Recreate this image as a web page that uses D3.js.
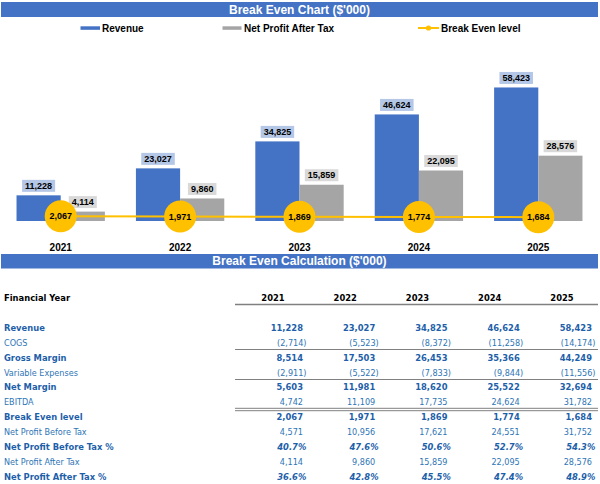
<!DOCTYPE html>
<html>
<head>
<meta charset="utf-8">
<script src="https://cdn.jsdelivr.net/npm/d3@7"></script>
<style>
  html, body { margin: 0; padding: 0; background: #ffffff; }
  svg { display: block; font-family: "Liberation Sans", Arial, sans-serif; }
</style>
</head>
<body>
<svg id="chart" width="600" height="484"></svg>
<script>
// ---------------- DATA ----------------
const years = ["2021", "2022", "2023", "2024", "2025"];
const revenue = [11228, 23027, 34825, 46624, 58423];
const netProfitAfterTax = [4114, 9860, 15859, 22095, 28576];
const breakEvenLevel = [2067, 1971, 1869, 1774, 1684];

const cogs = [-2714, -5523, -8372, -11258, -14174];
const grossMargin = [8514, 17503, 26453, 35366, 44249];
const variableExpenses = [-2911, -5522, -7833, -9844, -11556];
const netMargin = [5603, 11981, 18620, 25522, 32694];
const ebitda = [4742, 11109, 17735, 24624, 31782];
const netProfitBeforeTax = [4571, 10956, 17621, 24551, 31752];
const netProfitBeforeTaxPct = [40.7, 47.6, 50.6, 52.7, 54.3];
const netProfitAfterTaxPct = [36.6, 42.8, 45.5, 47.4, 48.9];

const chartTitle = "Break Even Chart ($'000)";
const tableTitle = "Break Even Calculation ($'000)";
const seriesNames = ["Revenue", "Net Profit After Tax", "Break Even level"];

// ---------------- STYLE ----------------
const C_BLUE = "#4472C4", C_GREY = "#A5A5A5", C_YEL = "#FFC000";
const C_BLUE_LBL = "#B4C7E7", C_GREY_LBL = "#D9D9D9";
const C_TXT_BOLD = "#1E5FAA", C_TXT_REG = "#2E75B6";

const svg = d3.select("#chart");
const fmt = d3.format(",");

// pick a Tahoma-like condensed face for the table if available
let TF = "Liberation Sans, Arial, sans-serif", regSize = 10, boldSize = 10;
{
  const t = svg.append("text").attr("font-family", "DejaVu Sans Condensed").attr("font-size", 10).text("Variable Expenses");
  const w = t.node().getComputedTextLength();
  t.remove();
  if (w > 80 && w < 89) { TF = "DejaVu Sans Condensed"; regSize = 9; boldSize = 9.3; }
}

// Title bars
function titleBar(y, h, text) {
  svg.append("rect").attr("x", 1).attr("y", y).attr("width", 597).attr("height", h).attr("fill", C_BLUE);
  svg.append("text").attr("x", 299.5).attr("y", y + h / 2 + 4.2)
    .attr("text-anchor", "middle").attr("fill", "#fff")
    .attr("font-size", 12).attr("font-weight", "bold").text(text);
}
titleBar(2, 15, chartTitle);

// Legend
const lg = svg.append("g").attr("font-size", 10).attr("font-weight", "bold");
lg.append("rect").attr("x", 80.5).attr("y", 26.3).attr("width", 19.5).attr("height", 3.5).attr("fill", C_BLUE);
lg.append("text").attr("x", 102).attr("y", 31.6).text(seriesNames[0]);
lg.append("rect").attr("x", 222.5).attr("y", 26.3).attr("width", 19).attr("height", 3.5).attr("fill", C_GREY);
lg.append("text").attr("x", 244).attr("y", 31.6).text(seriesNames[1]);
lg.append("line").attr("x1", 418).attr("x2", 439).attr("y1", 28).attr("y2", 28).attr("stroke", C_YEL).attr("stroke-width", 2);
lg.append("circle").attr("cx", 428.5).attr("cy", 28).attr("r", 2.6).attr("fill", C_YEL);
lg.append("text").attr("x", 441).attr("y", 31.6).text(seriesNames[2]);

// ---------------- CHART ----------------
const x0 = d3.scaleBand().domain(years).range([1, 598]).paddingInner(0.26).paddingOuter(0.13);
const x1 = d3.scaleBand().domain(["rev", "npat"]).range([0, x0.bandwidth()]);
const y = d3.scaleLinear().domain([0, 70000]).range([221, 61]);

const barData = years.map((yr, i) => [
  { year: yr, key: "rev", value: revenue[i], color: C_BLUE, lbl: C_BLUE_LBL },
  { year: yr, key: "npat", value: netProfitAfterTax[i], color: C_GREY, lbl: C_GREY_LBL }
]).flat();

const bars = svg.append("g");
bars.selectAll("rect").data(barData).join("rect")
  .attr("x", d => x0(d.year) + x1(d.key))
  .attr("y", d => y(d.value))
  .attr("width", x1.bandwidth())
  .attr("height", d => y(0) - y(d.value))
  .attr("fill", d => d.color);

// data labels with boxes
const lblG = svg.append("g").attr("font-size", 9).attr("font-weight", "bold");
barData.forEach(d => {
  const cx = x0(d.year) + x1(d.key) + x1.bandwidth() / 2;
  const top = y(d.value);
  const g = lblG.append("g");
  const t = g.append("text").attr("x", cx).attr("y", top - 6.8).attr("text-anchor", "middle")
    .attr("fill", "#000").text(fmt(d.value));
  const w = t.node().getComputedTextLength() + 6;
  g.insert("rect", "text").attr("x", cx - w / 2).attr("y", top - 15.5).attr("width", w).attr("height", 12)
    .attr("fill", d.lbl);
});

// Break-even line and markers
const beData = years.map((yr, i) => ({ year: yr, value: breakEvenLevel[i] }));
const beX = d => x0(d.year) + x0.bandwidth() / 2;
svg.append("path").datum(beData)
  .attr("d", d3.line().x(beX).y(d => y(d.value)))
  .attr("fill", "none").attr("stroke", C_YEL).attr("stroke-width", 2);
const beG = svg.append("g");
beG.selectAll("circle").data(beData).join("circle")
  .attr("cx", beX).attr("cy", d => y(d.value)).attr("r", 16).attr("fill", C_YEL);
beG.selectAll("text").data(beData).join("text")
  .attr("x", beX).attr("y", d => y(d.value) + 3.2).attr("text-anchor", "middle")
  .attr("font-size", 9).attr("font-weight", "bold").attr("fill", "#000")
  .text(d => fmt(d.value));

// X axis (year labels)
const xAxis = svg.append("g").attr("transform", "translate(0,221)")
  .call(d3.axisBottom(x0).tickSize(0).tickPadding(23));
xAxis.select(".domain").remove();
xAxis.selectAll("text").attr("font-size", 10).attr("font-weight", "bold").attr("fill", "#000")
  .attr("font-family", "Liberation Sans, Arial, sans-serif");

// ---------------- TABLE ----------------
titleBar(254, 14.5, tableTitle);

const rows = [
  { label: "Revenue", values: revenue, type: "bold" },
  { label: "COGS", values: cogs, type: "reg" },
  { label: "Gross Margin", values: grossMargin, type: "bold" },
  { label: "Variable Expenses", values: variableExpenses, type: "reg" },
  { label: "Net Margin", values: netMargin, type: "bold" },
  { label: "EBITDA", values: ebitda, type: "reg" },
  { label: "Break Even level", values: breakEvenLevel, type: "bold" },
  { label: "Net Profit Before Tax", values: netProfitBeforeTax, type: "reg" },
  { label: "Net Profit Before Tax %", values: netProfitBeforeTaxPct, type: "pct" },
  { label: "Net Profit After Tax", values: netProfitAfterTax, type: "reg" },
  { label: "Net Profit After Tax %", values: netProfitAfterTaxPct, type: "pct" }
];

const col = d3.scaleBand().domain(years).range([236, 597.25]);
const rowY = d3.scaleLinear().domain([0, 10]).range([331, 479.5]);
const numRight = yr => col(yr) + col.bandwidth() - 5.25;

const tg = svg.append("g").attr("font-family", TF);
// Header
tg.append("text").attr("x", 4).attr("y", 301).attr("font-size", boldSize).attr("font-weight", "bold")
  .attr("fill", "#000").text("Financial Year");
tg.selectAll("text.yr").data(years).join("text").attr("class", "yr")
  .attr("x", yr => numRight(yr) - 30).attr("y", 301).attr("text-anchor", "middle")
  .attr("font-size", boldSize).attr("font-weight", "bold").attr("fill", "#000").text(d => d);

function hline(yy, w) {
  tg.append("line").attr("x1", 235).attr("x2", 598).attr("y1", yy).attr("y2", yy)
    .attr("stroke", "#808080").attr("stroke-width", w);
}
hline(304.5, 1.5);
hline(349.5, 1.2);
hline(379.5, 1.2);
hline(408.3, 1);
hline(410.7, 1);

rows.forEach((r, i) => {
  const yy = rowY(i);
  const bold = r.type !== "reg";
  const color = bold ? C_TXT_BOLD : C_TXT_REG;
  const fs = bold ? boldSize : regSize;
  tg.append("text").attr("x", 4).attr("y", yy).attr("font-size", fs)
    .attr("font-weight", bold ? "bold" : "normal").attr("fill", color).text(r.label);
  years.forEach((yr, j) => {
    const v = r.values[j];
    let txt, xr = numRight(yr);
    if (r.type === "pct") { txt = v.toFixed(1) + "%"; xr += 3.3; }
    else if (v < 0) { txt = "(" + fmt(-v) + ")"; xr += 3.5; }
    else txt = fmt(v);
    tg.append("text").attr("x", xr).attr("y", yy).attr("text-anchor", "end")
      .attr("font-size", fs).attr("font-weight", bold ? "bold" : "normal")
      .attr("font-style", r.type === "pct" ? "italic" : "normal")
      .attr("fill", color).text(txt);
  });
});
</script>
</body>
</html>
